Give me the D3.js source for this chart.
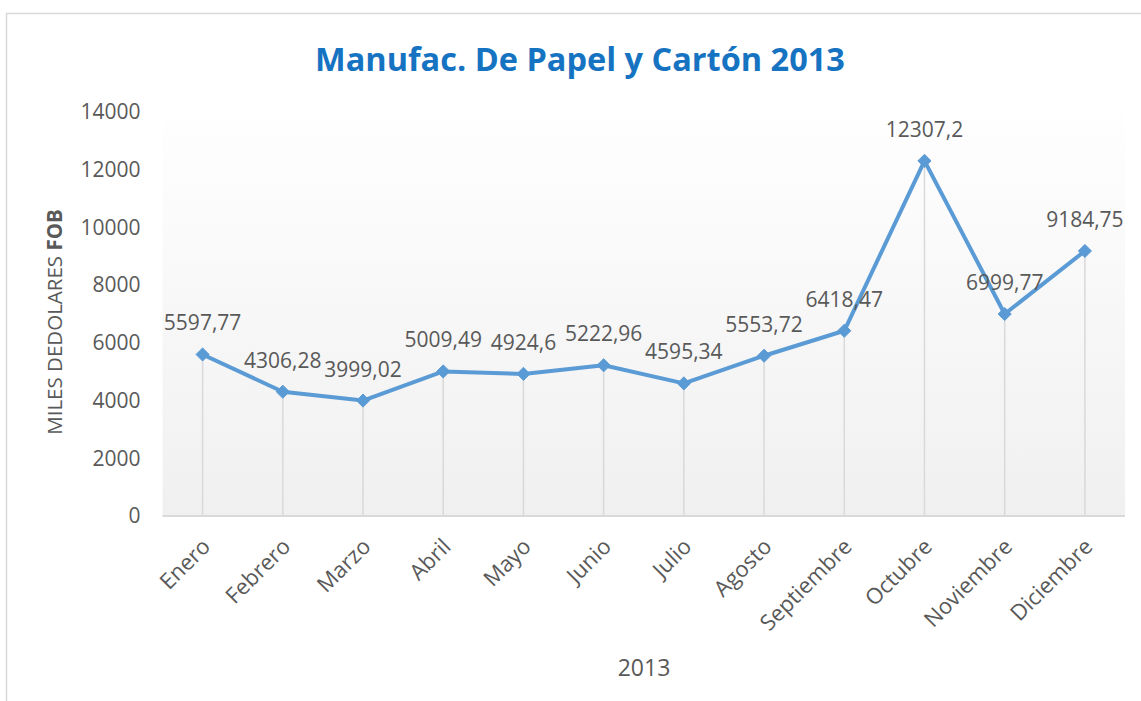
<!DOCTYPE html>
<html>
<head>
<meta charset="utf-8">
<script src="https://cdn.jsdelivr.net/npm/d3@7"></script>
<style>
    body { margin: 0; background: #fff; }
    text { font-family: 'Open Sans', sans-serif; fill: #595959; }
</style>
</head>
<body>
<script>
(function(){

// DATA

    const months = ['Enero', 'Febrero', 'Marzo', 'Abril', 'Mayo', 'Junio',
        'Julio', 'Agosto', 'Septiembre', 'Octubre', 'Noviembre', 'Diciembre'];
    const values = [5597.77, 4306.28, 3999.02, 5009.49, 4924.6, 5222.96,
        4595.34, 5553.72, 6418.47, 12307.2, 6999.77, 9184.75];
    const labels = ['5597,77', '4306,28', '3999,02', '5009,49', '4924,6', '5222,96',
        '4595,34', '5553,72', '6418,47', '12307,2', '6999,77', '9184,75'];
    const yTicks = [0, 2000, 4000, 6000, 8000, 10000, 12000, 14000];

    const width = 1141,
        height = 701,
        plotLeft = 162.5,
        plotRight = 1125,
        plotTop = 100,
        plotBottom = 516;

    const data = months.map(function(m, i){
        return {month: m, value: values[i], label: labels[i]};
    });

    const svg = d3.select('body')
        .append('svg')
        .attr('width', width)
        .attr('height', height);

    // background gradient of plot area
    const grad = svg.append('defs')
        .append('linearGradient')
        .attr('id', 'plotGrad')
        .attr('x1', 0).attr('y1', 0)
        .attr('x2', 0).attr('y2', 1);
    grad.append('stop').attr('offset', '0%').attr('stop-color', '#ffffff');
    grad.append('stop').attr('offset', '100%').attr('stop-color', '#f0f0f0');

    // chart border
    svg.append('rect')
        .attr('x', 6.5)
        .attr('y', 13.5)
        .attr('width', 1150)
        .attr('height', 720)
        .attr('fill', 'none')
        .attr('stroke', '#d9d9d9')
        .attr('stroke-width', 1.5);

    const x = d3.scaleBand()
        .domain(months)
        .range([plotLeft, plotRight])
        .paddingInner(0)
        .paddingOuter(0);

    const y = d3.scaleLinear()
        .domain([0, 14000])
        .range([plotBottom, 112]);

    const cx = function(d){ return x(d.month) + x.bandwidth() / 2; };

    svg.append('rect')
        .attr('x', plotLeft)
        .attr('y', plotTop)
        .attr('width', plotRight - plotLeft)
        .attr('height', plotBottom - plotTop)
        .attr('fill', 'url(#plotGrad)');

// TITLE

    svg.append('text')
        .attr('x', 580)
        .attr('y', 71)
        .attr('text-anchor', 'middle')
        .style('font-size', '32.5px')
        .style('font-weight', 'bold')
        .style('fill', '#1673C2')
        .text('Manufac. De Papel y Cartón 2013');

// AXES

    const yAxis = svg.append('g')
        .attr('transform', 'translate(' + plotLeft + ',0)')
        .call(d3.axisLeft(y).tickValues(yTicks).tickSize(0).tickPadding(22).tickFormat(d3.format('d')));
    yAxis.select('.domain').remove();
    yAxis.selectAll('text')
        .style('font-size', '21px')
        .style('font-family', "'Open Sans', sans-serif")
        .style('fill', '#595959');

    const yTitle = svg.append('text')
        .attr('transform', 'translate(62,322) rotate(-90)')
        .attr('text-anchor', 'middle')
        .style('font-size', '20.5px');
    yTitle.append('tspan').text('MILES DEDOLARES ');
    yTitle.append('tspan').style('font-weight', 'bold').text('FOB');

    svg.append('g')
        .selectAll('text')
        .data(data)
        .enter()
        .append('text')
        .attr('transform', function(d){
            return 'translate(' + (cx(d) + 9) + ',548) rotate(-45)';
        })
        .attr('text-anchor', 'end')
        .style('font-size', '22px')
        .text(function(d){ return d.month; });

    svg.append('text')
        .attr('x', 644)
        .attr('y', 676)
        .attr('text-anchor', 'middle')
        .style('font-size', '23px')
        .text('2013');

// DROP LINES

    svg.append('g')
        .selectAll('line')
        .data(data)
        .enter()
        .append('line')
        .attr('x1', cx)
        .attr('x2', cx)
        .attr('y1', function(d){ return y(d.value); })
        .attr('y2', plotBottom)
        .attr('stroke', '#d9d9d9')
        .attr('stroke-width', 1.5);

    svg.append('line')
        .attr('x1', plotLeft)
        .attr('x2', plotRight)
        .attr('y1', plotBottom)
        .attr('y2', plotBottom)
        .attr('stroke', '#d9d9d9')
        .attr('stroke-width', 2);

// LINE + MARKERS

    const line = d3.line()
        .x(cx)
        .y(function(d){ return y(d.value); });

    svg.append('path')
        .datum(data)
        .attr('d', line)
        .attr('fill', 'none')
        .attr('stroke', '#5B9BD5')
        .attr('stroke-width', 4)
        .attr('stroke-linejoin', 'round');

    svg.append('g')
        .selectAll('path')
        .data(data)
        .enter()
        .append('path')
        .attr('d', d3.symbol().type(d3.symbolDiamond2).size(110))
        .attr('transform', function(d){
            return 'translate(' + cx(d) + ',' + y(d.value) + ')';
        })
        .attr('fill', '#5B9BD5')
        .attr('stroke', '#5B9BD5')
        .attr('stroke-width', 1);

// DATA LABELS

    svg.append('g')
        .selectAll('text')
        .data(data)
        .enter()
        .append('text')
        .attr('x', cx)
        .attr('y', function(d){ return y(d.value) - 24; })
        .attr('text-anchor', 'middle')
        .style('font-size', '21px')
        .text(function(d){ return d.label; });

})();
</script>
</body>
</html>
